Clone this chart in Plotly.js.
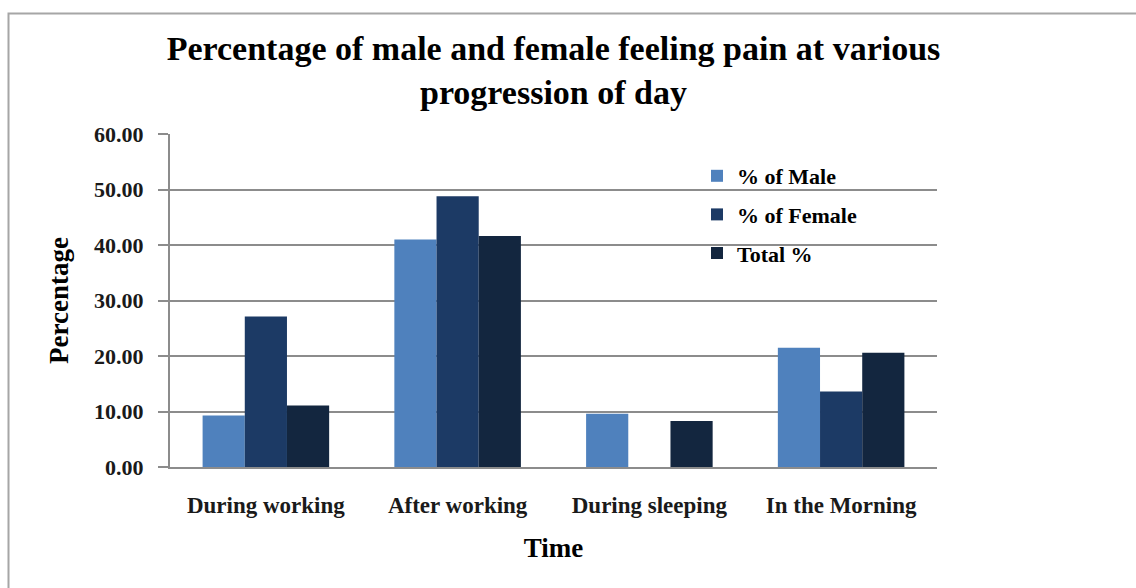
<!DOCTYPE html>
<html>
<head>
<meta charset="utf-8">
<script src="https://cdn.plot.ly/plotly-3.0.1.min.js"></script>
<style>
  html, body { margin: 0; padding: 0; background: #ffffff; }
  #chart { width: 1136px; height: 588px; }
</style>
</head>
<body>
<div id="chart"></div>
<script>
// Time-of-day categories and the share of respondents feeling pain in each
const categories = ["During working", "After working", "During sleeping", "In the Morning"];
const maleValues = [9.3, 41.0, 9.6, 21.5];
const femaleValues = [27.1, 48.8, 0, 13.6];
const totalValues = [11.1, 41.6, 8.3, 20.6];
const seriesNames = ["% of Male", "% of Female", "Total %"];
const yTickValues = [0, 10, 20, 30, 40, 50, 60];

const colors = ["#4f81bd", "#1c3a65", "#13263f"];
const serif = "Liberation Serif";

const seriesValues = [maleValues, femaleValues, totalValues];
const traces = seriesValues.map((vals, i) => ({
  type: "bar",
  name: seriesNames[i],
  x: categories,
  y: vals,
  legendgroup: "g" + i,
  marker: { color: colors[i], line: { width: 0 } },
  hoverinfo: "x+y+name"
}));

// Plot area spans 170..937 px horizontally and 134..467 px vertically
const L = 170, R = 937, T = 134, B = 467;
const px = v => (v - L) / (R - L);
const py = v => (B - v) / (B - T);

const layout = {
  width: 1136,
  height: 588,
  margin: { l: L, r: 1136 - R, t: T, b: 588 - B, pad: 0 },
  paper_bgcolor: "#ffffff",
  plot_bgcolor: "#ffffff",
  font: { family: serif, color: "#000000" },
  title: {
    text: "<b>Percentage of male and female feeling pain at various<br>progression of day</b>",
    font: { family: serif, size: 34, color: "#000000", weight: "bold" },
    xref: "paper", x: 0.5, xanchor: "center",
    yref: "container", y: 1 - 60 / 588, yanchor: "top"
  },
  bargap: 0.34,
  bargroupgap: 0,
  barmode: "group",
  xaxis: {
    type: "category",
    showline: true,
    linecolor: "#8c8c8c",
    linewidth: 2,
    ticks: "",
    showgrid: false,
    zeroline: false,
    tickfont: { family: serif, size: 23, color: "#1a1a1a", weight: "bold" },
    ticklabelstandoff: 16,
    title: {
      text: "<b>Time</b>",
      font: { family: serif, size: 27, color: "#000000" },
      standoff: 22
    },
    fixedrange: true
  },
  yaxis: {
    range: [0, 60],
    tickvals: yTickValues,
    tickformat: ".2f",
    showline: true,
    linecolor: "#8c8c8c",
    linewidth: 2,
    ticks: "outside",
    ticklen: 10,
    tickwidth: 2,
    tickcolor: "#8c8c8c",
    showgrid: true,
    gridcolor: "#8c8c8c",
    gridwidth: 2,
    zeroline: false,
    tickfont: { family: serif, size: 22, color: "#1a1a1a", weight: "bold" },
    ticklabelstandoff: 10,
    title: {
      text: "<b>Percentage</b>",
      font: { family: serif, size: 27, color: "#000000" },
      standoff: 18
    },
    fixedrange: true
  },
  legend: {
    x: px(697), xanchor: "left",
    y: py(155), yanchor: "top",
    bgcolor: "rgba(0,0,0,0)",
    font: { family: serif, size: 22, color: "#000000", weight: "bold" },
    traceorder: "grouped",
    tracegroupgap: 7,
    itemclick: false,
    itemdoubleclick: false
  },
  showlegend: true,
  shapes: [{
    type: "rect",
    xref: "paper", yref: "paper",
    x0: px(8.5), x1: px(1150),
    y0: py(600), y1: py(13.5),
    line: { color: "#a6a6a6", width: 2 },
    fillcolor: "rgba(0,0,0,0)",
    layer: "below"
  }]
};

Plotly.newPlot("chart", traces, layout, { displayModeBar: false, staticPlot: true });
</script>
</body>
</html>
